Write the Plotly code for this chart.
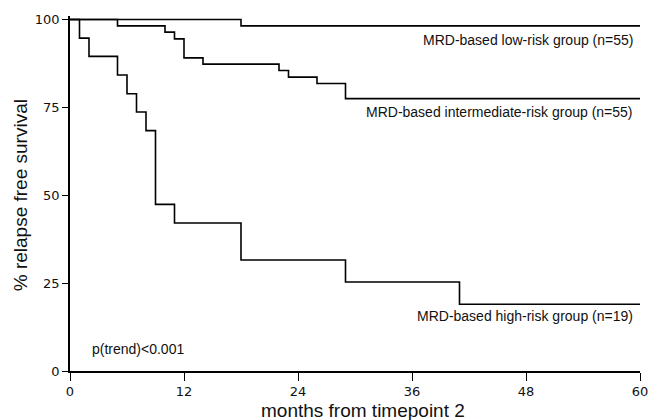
import plotly.graph_objects as go

# Kaplan-Meier step data (months, % relapse free survival)
low_t = [0, 18, 60]
low_s = [100, 98.2, 98.2]

int_t = [0, 5, 10, 11, 12, 14, 22, 23, 26, 29, 60]
int_s = [100, 98.2, 96.4, 94.5, 89.1, 87.3, 85.5, 83.6, 81.8, 77.5, 77.5]

high_t = [0, 1, 2, 5, 6, 7, 8, 9, 11, 18, 29, 41, 60]
high_s = [100, 94.7, 89.5, 84.2, 78.9, 73.7, 68.4, 47.4, 42.1, 31.6, 25.3, 19.0, 19.0]

x_ticks = [0, 12, 24, 36, 48, 60]
y_ticks = [0, 25, 50, 75, 100]

labels = ["MRD-based low-risk group (n=55)",
          "MRD-based intermediate-risk group (n=55)",
          "MRD-based high-risk group (n=19)"]

fig = go.Figure()
for t, s in [(low_t, low_s), (int_t, int_s), (high_t, high_s)]:
    fig.add_trace(go.Scatter(x=t, y=s, mode="lines", line=dict(color="black", width=1.6, shape="hv"),
                             showlegend=False, hoverinfo="skip"))

font = "Liberation Sans, Arial, Helvetica, sans-serif"
for lab, yv, ys in zip(labels, [low_s[-1], int_s[-1], high_s[-1]], [-14, -13, -12]):
    fig.add_annotation(x=60, y=yv, xref="x", yref="y", text=lab, showarrow=False,
                       xanchor="right", yanchor="middle", xshift=-5, yshift=ys,
                       font=dict(family=font, size=14, color="#111"))

fig.add_annotation(x=2.1, y=6.3, xref="x", yref="y", text="p(trend)<0.001", showarrow=False,
                   xanchor="left", yanchor="middle", font=dict(family=font, size=14, color="#111"))

# axis titles
fig.add_annotation(x=0.514, y=0, xref="paper", yref="paper", text="months from timepoint 2",
                   showarrow=False, xanchor="center", yanchor="middle", yshift=-39,
                   font=dict(family=font, size=19, color="#111"))
fig.add_annotation(x=0, y=0.495, xref="paper", yref="paper", text="% relapse free survival",
                   showarrow=False, xanchor="center", yanchor="middle", xshift=-50, textangle=-90,
                   font=dict(family=font, size=19, color="#111"))

fig.update_xaxes(range=[0, 60], tickvals=x_ticks, ticks="outside", ticklen=8, tickwidth=1.2,
                 tickcolor="black", showline=True, linecolor="black", linewidth=1.6,
                 showgrid=False, zeroline=False,
                 tickfont=dict(family="DejaVu Sans, sans-serif", size=13, color="#111"))
fig.update_yaxes(range=[0, 101], tickvals=y_ticks, ticks="outside", ticklen=6, tickwidth=1.2,
                 tickcolor="black", showline=True, linecolor="black", linewidth=1.6,
                 showgrid=False, zeroline=False,
                 tickfont=dict(family="DejaVu Sans, sans-serif", size=13, color="#111"))

fig.update_layout(width=653, height=420, plot_bgcolor="white", paper_bgcolor="white",
                  margin=dict(l=70, r=13, t=15.5, b=49, autoexpand=False))
# remove the default 8px body margin so the 653x420 figure fills the window exactly
fig.write_html("out.html", config={"displayModeBar": False},
               post_script="document.body.style.margin='0';document.body.style.overflow='hidden';")
